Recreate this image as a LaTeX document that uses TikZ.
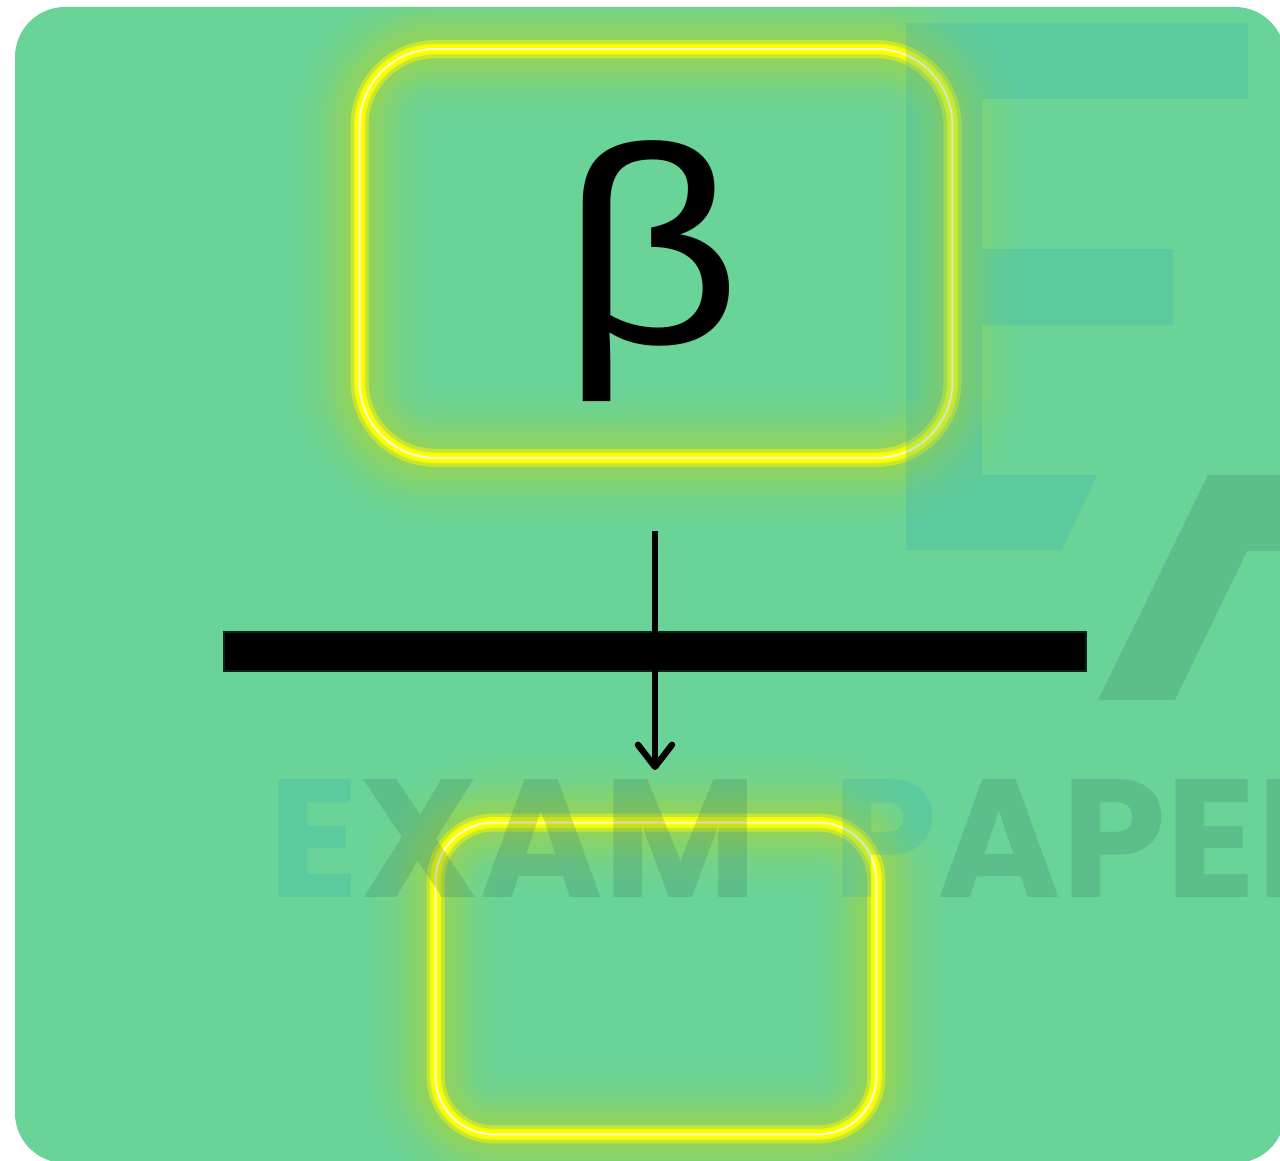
\documentclass[tikz,border=0pt]{standalone}
\usepackage{fontspec}
\usetikzlibrary{arrows.meta}
\newfontfamily\betafont{Liberation Sans}
\newfontfamily\wmfont{Poppins Bold}
\definecolor{cardgreen}{RGB}{105,211,152}
\definecolor{wmblue}{RGB}{53,179,180}
\definecolor{wmdark}{RGB}{57,131,104}
\definecolor{neon}{RGB}{255,255,0}
\definecolor{neoncore}{RGB}{255,255,205}
\definecolor{baredge}{RGB}{15,36,23}
\tikzset{
  framebox/.style={shape=rectangle, inner sep=0pt},
  glowlayer/.style={draw=neon, draw opacity=0.018},
  neonline/.style={draw=neon, line width=3.6pt,
    postaction={draw=neoncore, line width=1pt}},
  bigsymbol/.style={inner sep=0pt, font=\betafont\fontsize{140}{140}\selectfont},
  blockbar/.style={shape=rectangle, inner sep=0pt, fill=black, draw=baredge, line width=1pt},
  flow/.style={line width=3.2pt, line cap=butt, -{Straight Barb[length=11pt,width=17pt,round]}},
  wmark/.style={fill opacity=0.25},
  wmword/.style={anchor=base west, inner sep=0pt, text opacity=0.25,
    font=\wmfont\fontsize{84}{84}\selectfont},
}
\begin{document}
\begin{tikzpicture}[x=0.5pt,y=-0.5pt]
  \useasboundingbox (0,0) rectangle (1280,1161);
  \fill[white] (0,0) rectangle (1280,1161);
  \fill[cardgreen, rounded corners=25pt] (15,7) rectangle (1285,1163);
  \begin{scope}
    \clip[rounded corners=25pt] (15,7) rectangle (1285,1163);

    % frame nodes
    \node[framebox, minimum width=296pt, minimum height=204pt] (topbox) at (656,253.5) {};
    \node[framebox, minimum width=220pt, minimum height=155.5pt] (bottombox) at (656,978.5) {};

    % soft neon halo, built from many faint strokes
    \foreach \fr/\rad in {topbox/38pt, bottombox/29pt} {
      \foreach \w in {2,4,...,40}
        \draw[glowlayer, line width=\w pt, rounded corners=\rad]
          (\fr.south west) rectangle (\fr.north east);
      \foreach \w in {44,50,...,68}
        \draw[glowlayer, line width=\w pt, rounded corners=\rad]
          (\fr.south west) rectangle (\fr.north east);
      \draw[neon, draw opacity=0.45, line width=9pt, rounded corners=\rad]
        (\fr.south west) rectangle (\fr.north east);
      \draw[neon, draw opacity=0.8, line width=5.5pt, rounded corners=\rad]
        (\fr.south west) rectangle (\fr.north east);
      \draw[neonline, rounded corners=\rad]
        (\fr.south west) rectangle (\fr.north east);
    }

    % symbol in the upper frame
    \node[bigsymbol] (beta) at (652,271) {\scalebox{1.12}[1]{β}};

    % arrow through the bar
    \coordinate (tail) at (655,531);
    \coordinate (head) at (655,770);
    \node[blockbar, minimum width=431pt, minimum height=19.5pt] (bar) at (655,651) {};
    \draw[flow] (tail) -- (head);

    % logo watermark
    \fill[wmblue, wmark] (906,23) -- (1248,23) -- (1248,99) -- (982,99) -- (982,249)
      -- (1173,249) -- (1173,325) -- (982,325) -- (982,475) -- (1097,475)
      -- (1062,550) -- (906,550) -- cycle;
    \fill[wmdark, wmark] (1098,700) -- (1175,700) -- (1247,551) -- (1300,551)
      -- (1300,475) -- (1208,475) -- cycle;
    \node[wmword] (wmexam) at (268,897)
      {\textcolor{wmblue}{E}\textcolor{wmdark}{XAM}};
    \node[wmword] (wmpapers) at (832,897)
      {\textcolor{wmblue}{P}\textcolor{wmdark}{APERS}};
  \end{scope}
\end{tikzpicture}
\end{document}
